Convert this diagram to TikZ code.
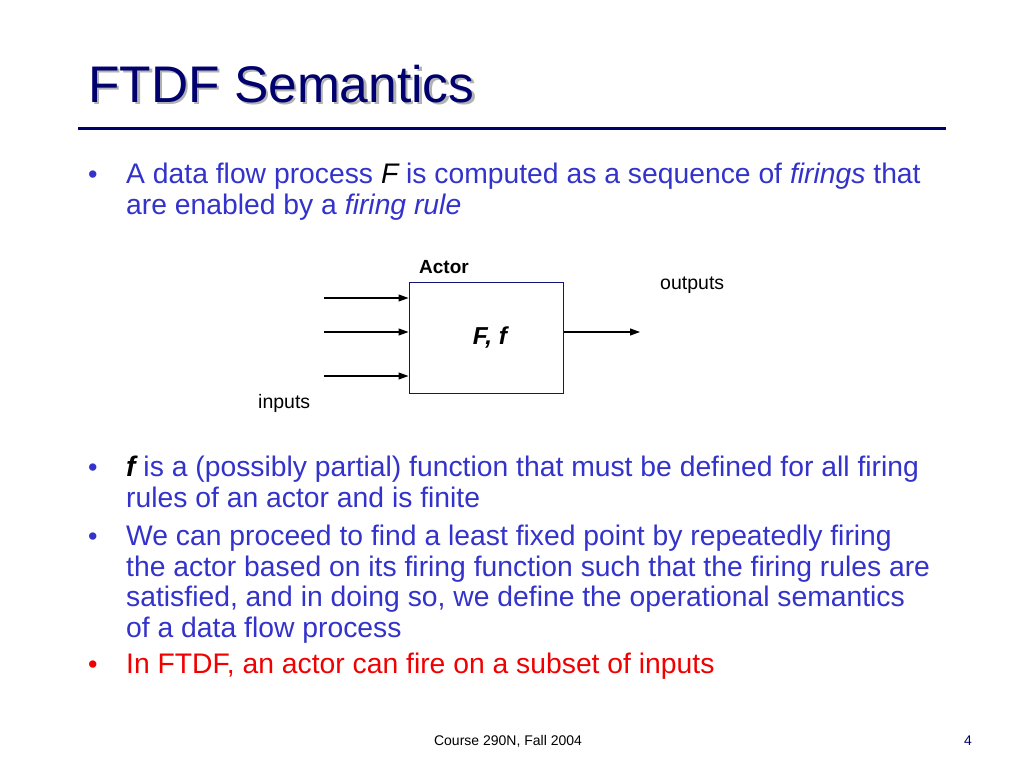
\documentclass[tikz,border=0pt]{standalone}
\usepackage{fontspec}
\setmainfont{Liberation Sans}
\usetikzlibrary{arrows.meta}
\definecolor{titleblue}{RGB}{0,0,110}
\definecolor{bodyblue}{RGB}{51,51,204}
\definecolor{bodyred}{RGB}{240,0,0}
\definecolor{boxblue}{RGB}{20,20,120}
\tikzset{
  body/.style={anchor=base west, inner sep=0pt, font=\fontsize{28.3}{31}\selectfont, text=bodyblue},
  bul/.style={anchor=base west, inner sep=0pt, font=\fontsize{27}{31}\selectfont, text=bodyblue},
  lbl/.style={inner sep=0pt, font=\fontsize{19.5}{22}\selectfont},
  arr/.style={-{Triangle[length=10pt,width=7pt]}, line width=1.1pt},
}
\begin{document}
\begin{tikzpicture}[x=1pt,y=-1pt]
\useasboundingbox (0,0) rectangle (1024,768);
\fill[white] (0,0) rectangle (1024,768);
% title
\node[anchor=base west, inner sep=0pt, font=\fontsize{51.5}{58}\selectfont, text=black!30] (titleshadow) at (90.5,104.5) {FTDF Semantics};
\node[anchor=base west, inner sep=0pt, font=\fontsize{51.5}{58}\selectfont, text=titleblue] (title) at (88,102) {FTDF Semantics};
\draw[titleblue, line width=3pt] (78,128) -- (946,128);
% bullet 1
\node[bul] (b1) at (88,183) {•};
\node[body] (l1a) at (126,183) {A data flow process \textcolor{black}{\itshape F} is computed as a sequence of \textit{firings} that};
\node[body] (l1b) at (126,214) {are enabled by a \textit{firing rule}};
% diagram
\node[draw=boxblue, line width=1pt, minimum width=154pt, minimum height=111pt, inner sep=0pt] (actor) at (486,337.5) {};
\node[lbl, font=\fontsize{24.5}{28}\selectfont\bfseries\itshape] (ff) at (490,338) {F, f};
\node[lbl, font=\fontsize{19}{22}\selectfont\bfseries, anchor=base west] (actorlbl) at (419,273) {Actor};
\node[lbl, anchor=base west] (outlbl) at (660,289) {outputs};
\node[lbl, anchor=base west] (inlbl) at (258,408) {inputs};
\coordinate (i1) at (324,298);
\coordinate (i2) at (324,332);
\coordinate (i3) at (324,376);
\coordinate (o1) at (640,332);
\draw[arr] (i1) -- (i1 -| actor.west);
\draw[arr] (i2) -- (i2 -| actor.west);
\draw[arr] (i3) -- (i3 -| actor.west);
\draw[arr] (o1 -| actor.east) -- (o1);
% bullet 2
\node[bul] (b2) at (88,476) {•};
\node[body] (l2a) at (126,476) {\textcolor{black}{\bfseries\itshape f} is a (possibly partial) function that must be defined for all firing};
\node[body] (l2b) at (126,507) {rules of an actor and is finite};
% bullet 3
\node[bul] (b3) at (88,545) {•};
\node[body] (l3a) at (126,545) {We can proceed to find a least fixed point by repeatedly firing};
\node[body] (l3b) at (126,576) {the actor based on its firing function such that the firing rules are};
\node[body] (l3c) at (126,606) {satisfied, and in doing so, we define the operational semantics};
\node[body] (l3d) at (126,637) {of a data flow process};
% bullet 4
\node[bul, text=bodyred] (b4) at (88,673) {•};
\node[body, text=bodyred] (l4a) at (126,673) {In FTDF, an actor can fire on a subset of inputs};
% footer
\node[anchor=base, inner sep=0pt, font=\fontsize{14}{16}\selectfont] (foot) at (508,745) {Course 290N, Fall 2004};
\node[anchor=base, inner sep=0pt, font=\fontsize{14}{16}\selectfont, text=titleblue] (pg) at (968,745) {4};
\end{tikzpicture}
\end{document}
